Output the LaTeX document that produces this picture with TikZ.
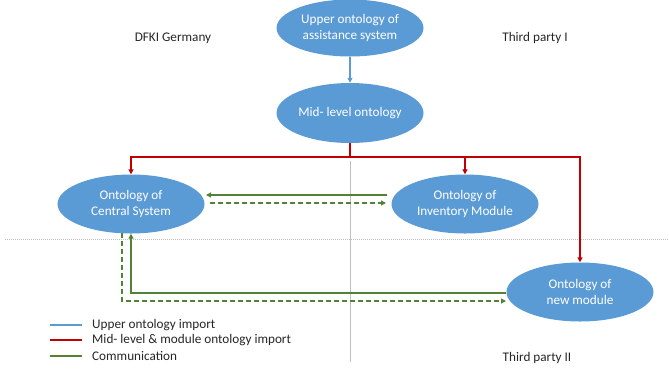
\documentclass[tikz,border=0pt]{standalone}
\usepackage{fontspec}
\setmainfont{Carlito}
\usetikzlibrary{arrows.meta,shapes.geometric}
\definecolor{ellfill}{HTML}{5B9BD5}
\definecolor{upblue}{HTML}{5B9BD5}
\definecolor{impred}{HTML}{C00000}
\definecolor{comgreen}{HTML}{548235}
\definecolor{divgray}{HTML}{BFBFBF}
\tikzset{
  onto/.style={ellipse, fill=ellfill, draw=none, minimum width=147pt, minimum height=59pt,
    inner sep=0pt, align=center, text=white, font=\fontsize{13.2}{16}\selectfont},
  lbl/.style={font=\fontsize{13.2}{16}\selectfont, text=black!85, inner sep=0pt},
  tip/.style={-{Triangle[length=5pt,width=5pt]}},
  upline/.style={upblue, line width=1.6pt, tip},
  redline/.style={impred, line width=1.6pt, tip},
  comline/.style={comgreen, line width=1.6pt, tip},
  comdash/.style={comline, dash pattern=on 5pt off 3pt},
  divider/.style={divgray, line width=0.6pt},
}
\begin{document}
\begin{tikzpicture}[x=1pt,y=-1pt]
\useasboundingbox (0,0) rectangle (669,368);

% region dividers
\draw[divider] (350,161) -- (350,362);
\draw[divider, dash pattern=on 1pt off 1pt] (5,239) -- (669,239);

% region labels
\node[lbl] (dfki) at (173,38) {DFKI Germany};
\node[lbl] (tp1) at (535,38) {Third party I};
\node[lbl] (tp2) at (537,358) {Third party II};

% ontologies
\node[onto, minimum height=57pt] (upper) at (350,28) {Upper ontology of\\assistance system};
\node[onto, minimum height=60pt] (mid) at (350,113) {Mid- level ontology};
\node[onto] (central) at (131,204) {Ontology of\\Central System};
\node[onto] (inv) at (465,204) {Ontology of\\Inventory Module};
\node[onto] (newmod) at (580,292) {Ontology of\\new module};

% upper ontology import
\draw[upline] (upper.south) -- (mid.north);

% mid-level & module imports
\coordinate (split) at (350,157);
\draw[impred, line width=1.6pt] (mid.south) -- (split);
\draw[redline] (split) -| (central.north);
\draw[redline] (split) -| (inv.north);
\draw[redline] (split) -| (newmod.north);

% communication between modules
\draw[comline] (387,195) -- (206,195);
\draw[comdash] (210,203) -- (386,203);
\coordinate (c1) at (131,293);
\draw[comline] (newmod.west |- c1) -- (c1) -- (central.south);
\coordinate (c2) at (122,301);
\coordinate (c2top) at (122,233);
\draw[comdash] (c2top) -- (c2) -- (506,301);

% legend
\coordinate (l1a) at (50,325); \coordinate (l1b) at (82,325);
\coordinate (l2a) at (50,340); \coordinate (l2b) at (82,340);
\coordinate (l3a) at (50,356); \coordinate (l3b) at (82,356);
\draw[upblue, line width=1.6pt] (l1a) -- (l1b);
\draw[impred, line width=1.6pt] (l2a) -- (l2b);
\draw[comgreen, line width=1.6pt] (l3a) -- (l3b);
\node[lbl, anchor=west] (lg1) at (92,325) {Upper ontology import};
\node[lbl, anchor=west] (lg2) at (92,340) {Mid- level \& module ontology import};
\node[lbl, anchor=west] (lg3) at (92,356) {Communication};
\end{tikzpicture}
\end{document}
